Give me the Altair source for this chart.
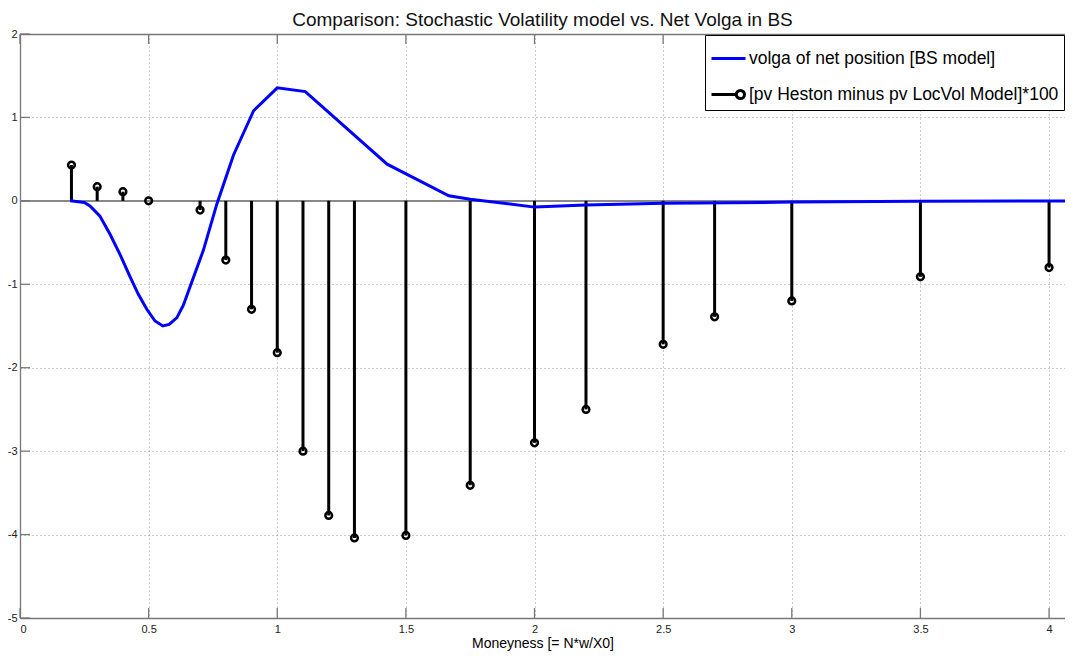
import altair as alt
import pandas as pd

# ---- data ----
line_x = [0.195, 0.25, 0.272, 0.31, 0.35, 0.39, 0.428, 0.46, 0.493, 0.525, 0.555, 0.58, 0.61,
          0.635, 0.661, 0.713, 0.765, 0.83, 0.908, 1.0, 1.109, 1.427, 1.667, 1.75, 2.0, 2.2,
          2.5, 3.0, 3.5, 4.1]
line_y = [0.0, -0.02, -0.06, -0.18, -0.4, -0.65, -0.91, -1.12, -1.30, -1.44, -1.50, -1.48, -1.40,
          -1.25, -1.03, -0.59, -0.04, 0.55, 1.08, 1.355, 1.31, 0.44, 0.06, 0.02, -0.075, -0.05,
          -0.03, -0.015, -0.005, 0.0]

stem_x = [0.2, 0.3, 0.4, 0.5, 0.7, 0.8, 0.9, 1.0, 1.1, 1.2, 1.3, 1.5, 1.75, 2.0, 2.2, 2.5, 2.7,
          3.0, 3.5, 4.0]
stem_y = [0.43, 0.17, 0.11, 0.0, -0.11, -0.71, -1.30, -1.82, -3.0, -3.77, -4.04, -4.01, -3.41,
          -2.90, -2.50, -1.72, -1.39, -1.20, -0.91, -0.80]

x_ticks = [0, 0.5, 1, 1.5, 2, 2.5, 3, 3.5, 4]
y_ticks = [-5, -4, -3, -2, -1, 0, 1, 2]

name_line = "volga of net position [BS model]"
name_stem = "[pv Heston minus pv LocVol Model]*100"
title_text = "Comparison: Stochastic Volatility model vs. Net Volga in BS"
x_title = "Moneyness [= N*w/X0]"

W, H = 1045, 584
FONT = "Liberation Sans"
AX = "#777777"

df_line = pd.DataFrame({"x": line_x, "y": line_y, "series": name_line})
df_stem = pd.DataFrame({"x": stem_x, "y": stem_y, "series": name_stem})
df_xt = pd.DataFrame({"t": x_ticks})
df_yt = pd.DataFrame({"t": y_ticks})

xs = alt.Scale(domain=[0, 4.062], nice=False, zero=False)
ys = alt.Scale(domain=[-5, 2], nice=False, zero=False)

x_main = alt.Axis(values=x_ticks, labelExpr="datum.value", grid=True, gridColor="#999999",
                  gridDash=[1, 3], gridWidth=1, ticks=False, domainColor=AX, domainWidth=1.3,
                  labelFont=FONT, labelFontSize=11, labelColor="#222222", labelPadding=5,
                  title=x_title, titleFont=FONT, titleFontSize=14, titleFontWeight="normal",
                  titleColor="#000000", titlePadding=2)
y_main = alt.Axis(values=y_ticks, labelExpr="datum.value", grid=True, gridColor="#999999",
                  gridDash=[1, 3], gridWidth=1, ticks=False, domainColor=AX, domainWidth=1.3,
                  labelFont=FONT, labelFontSize=11, labelColor="#222222", labelPadding=3,
                  title=None)

base_line = alt.Chart(df_line).mark_rule(color="#888888", strokeWidth=1.5).encode(
    y=alt.datum(0, scale=ys, axis=y_main)
)

main_line = alt.Chart(df_line).mark_line(color="#0000ff", strokeWidth=3).encode(
    x=alt.X("x:Q", scale=xs, axis=x_main),
    y=alt.Y("y:Q", scale=ys, axis=None),
)

stems = alt.Chart(df_stem).mark_rule(color="#000000", strokeWidth=3).encode(
    x=alt.X("x:Q", scale=xs, axis=None),
    y=alt.Y("y:Q", scale=ys, axis=None),
    y2=alt.datum(0),
)

circles = alt.Chart(df_stem).mark_point(shape="circle", filled=False, color="#000000",
                                        strokeWidth=2.5, size=45, opacity=1).encode(
    x=alt.X("x:Q", scale=xs, axis=None),
    y=alt.Y("y:Q", scale=ys, axis=None),
)

top_axis = alt.Axis(orient="top", labels=False, ticks=False, grid=False, domain=True,
                    domainColor=AX, domainWidth=1.3, title=None)

ticks_bottom = alt.Chart(df_xt).mark_rule(color=AX, strokeWidth=1.3).encode(
    x=alt.X("t:Q", scale=xs, axis=top_axis), y=alt.value(H), y2=alt.value(H - 10)
)
ticks_top = alt.Chart(df_xt).mark_rule(color=AX, strokeWidth=1.3).encode(
    x=alt.X("t:Q", scale=xs, axis=None), y=alt.value(0), y2=alt.value(10)
)
ticks_left = alt.Chart(df_yt).mark_rule(color=AX, strokeWidth=1.3).encode(
    y=alt.Y("t:Q", scale=ys, axis=None), x=alt.value(0), x2=alt.value(10)
)

p_line = "M-1,0L1,0"
p_stem = "M-1,0L0.46,0M0.46,0A0.24,0.24 0 1,0 0.94,0A0.24,0.24 0 1,0 0.46,0"

leg = alt.Legend(title=None, orient="top-right", offset=1, padding=5, rowPadding=9,
                 strokeColor="#000000", fillColor="#ffffff", cornerRadius=0,
                 symbolSize=1156, symbolStrokeWidth=3, symbolFillColor="transparent",
                 symbolOpacity=1,
                 labelFont=FONT, labelFontSize=17.5, labelColor="#000000", labelLimit=500,
                 labelOffset=2)

legend_layer = alt.Chart(df_stem).transform_filter("false").mark_point(
    filled=False, strokeWidth=3, size=1156, opacity=1
).encode(
    x=alt.X("x:Q", scale=xs, axis=None),
    y=alt.Y("y:Q", scale=ys, axis=None),
    color=alt.Color("series:N", scale=alt.Scale(domain=[name_line, name_stem],
                                                range=["#0000ff", "#000000"]), legend=leg),
    shape=alt.Shape("series:N", scale=alt.Scale(domain=[name_line, name_stem],
                                                range=[p_line, p_stem]), legend=leg),
)

chart = alt.layer(
    base_line, stems, circles, main_line, ticks_bottom, ticks_top, ticks_left, legend_layer
).resolve_axis(x="independent", y="independent").properties(
    width=W, height=H,
    title=alt.TitleParams(title_text, font=FONT, fontSize=19, fontWeight="normal",
                          color="#111111", offset=-2, anchor="middle"),
    autosize=alt.AutoSizeParams(type="none"),
    padding={"left": 12, "top": 26, "right": 0, "bottom": 36},
).configure_view(stroke=None).configure(background="#ffffff")

chart.save("out.html", embed_options={"renderer": "svg", "actions": False})
